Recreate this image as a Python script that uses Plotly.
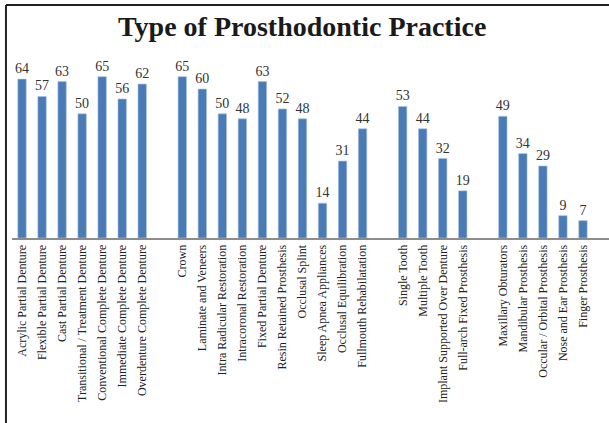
import plotly.graph_objects as go

title = "Type of Prosthodontic Practice"

categories = [
    "Acrylic Partial Denture", "Flexible Partial Denture", "Cast Partial Denture",
    "Transitional / Treatment Denture", "Conventional Complete Denture",
    "Immediate Complete Denture", "Overdenture Complete Denture",
    " ",
    "Crown", "Laminate and Veneers", "Intra Radicular Restoration",
    "Intracoronal Restoration", "Fixed Partial Denture", "Resin Retained Prosthesis",
    "Occlusal Splint", "Sleep Apnea Appliances", "Occlusal Equilibration",
    "Fullmouth Rehabilatation",
    "  ",
    "Single Tooth", "Multiple Tooth", "Implant Supported Over Denture",
    "Full-arch Fixed Prosthesis",
    "   ",
    "Maxillary Obturators", "Mandibular Prosthesis", "Occular / Orbital Prosthesis",
    "Nose and Ear Prosthesis", "Finger Prosthesis",
]

values = [
    64, 57, 63, 50, 65, 56, 62,
    None,
    65, 60, 50, 48, 63, 52, 48, 14, 31, 44,
    None,
    53, 44, 32, 19,
    None,
    49, 34, 29, 9, 7,
]

labels = ["" if v is None else str(v) for v in values]

fig = go.Figure(go.Bar(
    x=categories,
    y=values,
    text=labels,
    textposition="outside",
    constraintext="none",
    cliponaxis=False,
    textfont=dict(family="Liberation Serif", size=14, color="#333333"),
    marker=dict(color="#4A7BB7", line=dict(color="#A9C3E3", width=0.6)),
    width=0.42,
    hoverinfo="skip",
))

fig.update_layout(
    width=609, height=423,
    margin=dict(l=12, r=0, t=60, b=185, autoexpand=False),
    paper_bgcolor="white", plot_bgcolor="white",
    showlegend=False,
    uniformtext=dict(mode=False),
    title=dict(text="<b>" + title + "</b>", x=0.486, xanchor="center",
               xref="paper", yref="container", y=0.937, yanchor="middle",
               automargin=False,
               font=dict(family="Liberation Serif", size=28, color="#1a1a1a")),
    font=dict(family="Liberation Serif"),
)

fig.update_xaxes(
    type="category",
    range=[-0.5, 29.3],
    tickangle=-90,
    automargin=False,
    tickfont=dict(family="Liberation Serif", size=12, color="#222222"),
    showline=True, linecolor="#8c8c8c", linewidth=2,
    showgrid=False, ticks="", zeroline=False,
)
fig.update_yaxes(
    range=[0, 71.7],
    automargin=False,
    visible=False, showgrid=False, zeroline=False,
)

# outer frame (left and top edges visible)
fig.add_shape(type="line", xref="paper", yref="paper",
              x0=-0.0101, x1=-0.0101, y0=1.309, y1=-1.05,
              line=dict(color="#222222", width=2))
fig.add_shape(type="line", xref="paper", yref="paper",
              x0=-0.0101, x1=1.01, y0=1.309, y1=1.309,
              line=dict(color="#222222", width=2))

fig.write_html("out.html", config={"displayModeBar": False},
               post_script="document.body.style.margin='0';")
